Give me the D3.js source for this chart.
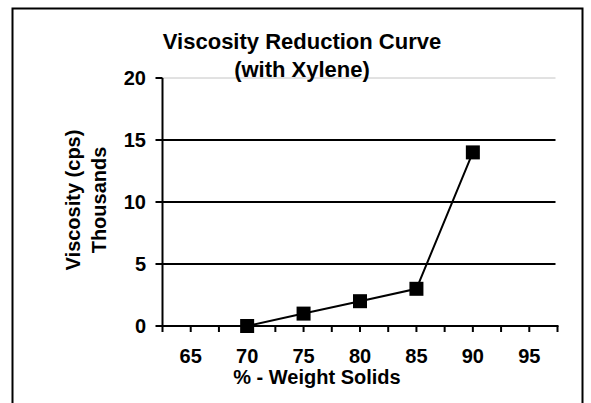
<!DOCTYPE html>
<html lang="en">
 <head>
  <meta charset="UTF-8">
  <title>Viscosity Reduction Curve</title>
  <style>
    body { margin: 0; background: #fff; }
    svg { display: block; font-family: "Liberation Sans", Arial, sans-serif; font-weight: bold; }
  </style>
 </head>
 <body>
<svg width="591" height="403"></svg>

<script src="https://d3js.org/d3.v7.min.js" charset="utf-8"></script>
<script>

// chart values
var solids = [70, 75, 80, 85, 90];          // % weight solids
var viscosity = [0, 1, 2, 3, 14];           // cps, thousands
var xTickLabels = [65, 70, 75, 80, 85, 90, 95];
var yTickLabels = [0, 5, 10, 15, 20];
var xMinorTicks = [62.5, 65, 67.5, 70, 72.5, 75, 77.5, 80, 82.5, 85, 87.5, 90, 92.5, 95, 97.5];

var svg = d3.select("svg");

// outer frame (runs off the bottom of the picture)
svg.append("rect")
    .attr("x", 12.5).attr("y", 8.5)
    .attr("width", 570).attr("height", 430)
    .attr("fill", "none").attr("stroke", "#000").attr("stroke-width", 2);

var x = d3.scaleLinear().domain([62.5, 97.5]).range([162.5, 557.5]);
var y = d3.scaleLinear().domain([0, 20]).range([326, 78]);

// gridlines: top one is light grey, the rest black
svg.selectAll("line.grid").data(yTickLabels.filter(function(d){ return d > 0 }))
  .enter().append("line")
    .attr("class", "grid")
    .attr("x1", x(62.5)).attr("x2", x(97.5) - 2)
    .attr("y1", function(d){ return y(d) }).attr("y2", function(d){ return y(d) })
    .attr("stroke", function(d){ return d == 20 ? "#c4c4c4" : "#000" })
    .attr("stroke-width", function(d){ return d == 20 ? 1 : 2 });

// y axis
svg.append("line")
    .attr("x1", x(62.5)).attr("x2", x(62.5))
    .attr("y1", y(20)).attr("y2", y(0))
    .attr("stroke", "#000").attr("stroke-width", 2);

svg.selectAll("line.ytick").data(yTickLabels)
  .enter().append("line")
    .attr("class", "ytick")
    .attr("x1", x(62.5) - 7).attr("x2", x(62.5))
    .attr("y1", function(d){ return y(d) }).attr("y2", function(d){ return y(d) })
    .attr("stroke", "#000").attr("stroke-width", 2);

svg.selectAll("text.ylab").data(yTickLabels)
  .enter().append("text")
    .attr("class", "ylab")
    .attr("x", 146).attr("y", function(d){ return y(d) + 7 })
    .attr("text-anchor", "end")
    .style("font-size", "20px")
    .text(function(d){ return d });

// x axis
svg.append("line")
    .attr("x1", x(62.5) - 1).attr("x2", x(97.5) + 1)
    .attr("y1", y(0)).attr("y2", y(0))
    .attr("stroke", "#000").attr("stroke-width", 2);

svg.selectAll("line.xtick").data(xMinorTicks)
  .enter().append("line")
    .attr("class", "xtick")
    .attr("x1", function(d){ return x(d) }).attr("x2", function(d){ return x(d) })
    .attr("y1", y(0)).attr("y2", y(0) + 6)
    .attr("stroke", "#000").attr("stroke-width", 2);

svg.selectAll("text.xlab").data(xTickLabels)
  .enter().append("text")
    .attr("class", "xlab")
    .attr("x", function(d){ return x(d) }).attr("y", 363)
    .attr("text-anchor", "middle")
    .style("font-size", "20px")
    .text(function(d){ return d });

// the curve
var line = d3.line()
    .x(function(d, i){ return x(solids[i]) })
    .y(function(d){ return y(d) });

svg.append("path")
    .attr("d", line(viscosity))
    .attr("fill", "none").attr("stroke", "#000").attr("stroke-width", 2);

svg.selectAll("rect.pt").data(viscosity)
  .enter().append("rect")
    .attr("class", "pt")
    .attr("x", function(d, i){ return x(solids[i]) - 7 })
    .attr("y", function(d){ return y(d) - 7 })
    .attr("width", 14).attr("height", 14)
    .attr("fill", "#000");

// titles
svg.append("text").attr("x", 302).attr("y", 49)
    .attr("text-anchor", "middle").style("font-size", "22px")
    .text("Viscosity Reduction Curve");
svg.append("text").attr("x", 302).attr("y", 77)
    .attr("text-anchor", "middle").style("font-size", "22px")
    .text("(with Xylene)");

svg.append("text").attr("x", 317).attr("y", 384)
    .attr("text-anchor", "middle").style("font-size", "20px")
    .text("% - Weight Solids");

var yt = svg.append("text")
    .attr("transform", "translate(80,200) rotate(-90)")
    .attr("text-anchor", "middle").style("font-size", "20px");
yt.append("tspan").attr("x", 0).attr("y", 0).text("Viscosity (cps)");
yt.append("tspan").attr("x", 0).attr("y", 26).text("Thousands");

</script>
 </body>
</html>
